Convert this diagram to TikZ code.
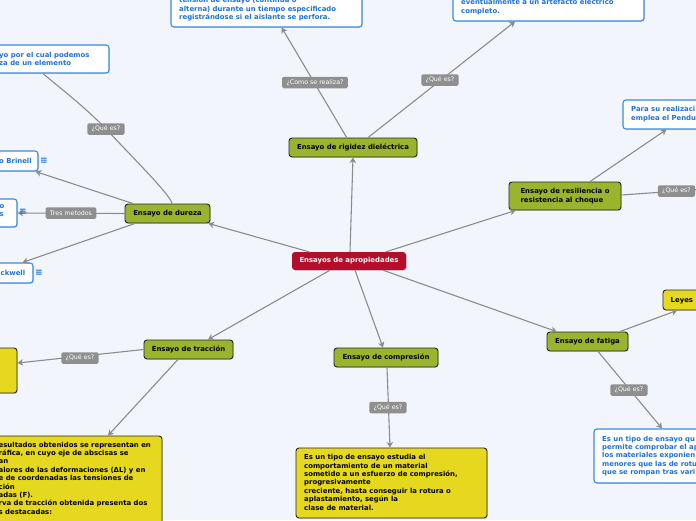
\documentclass[tikz,border=0pt]{standalone}
\usepackage{fontspec}
\setmainfont{DejaVu Sans}
\usetikzlibrary{arrows.meta,shadows}
\definecolor{bg}{HTML}{F2F5FC}
\definecolor{mgreen}{HTML}{9BB42D}
\definecolor{myellow}{HTML}{E6D81E}
\definecolor{mred}{HTML}{B50E2A}
\definecolor{mblue}{HTML}{1F72D6}
\definecolor{bblue}{HTML}{3A8AE2}
\definecolor{lgray}{HTML}{8C8C8C}
\definecolor{labgray}{HTML}{8F8F8F}
\tikzset{
 conn/.style={draw=lgray, line width=1.1pt},
 arr/.style={conn, -{Stealth[length=5.5pt,width=6.5pt,inset=1.5pt]}},
 shad/.style={drop shadow={shadow xshift=0.8pt,shadow yshift=-0.9pt,opacity=0.25}},
 topic/.style={shad, draw=black!85, line width=0.9pt, fill=mgreen, rounded corners=3pt, inner sep=0pt, font=\fontsize{6.9}{8.4}\selectfont\bfseries, text=black},
 central/.style={shad, fill=mred, rounded corners=3pt, inner sep=0pt, font=\fontsize{6.9}{8.4}\selectfont\bfseries, text=white},
 wbox/.style={shad, draw=bblue, line width=1.1pt, fill=white, rounded corners=3pt, inner sep=0pt},
 ybox/.style={shad, draw=black!85, line width=0.9pt, fill=myellow, rounded corners=3pt, inner sep=0pt},
 btxt/.style={anchor=north west, inner sep=0pt, align=left, text=mblue, font=\fontsize{6.9}{8.4}\selectfont\bfseries, execute at begin node=\strut},
 ktxt/.style={btxt, text=black},
 lab/.style={fill=labgray, text=white, rounded corners=1.5pt, inner xsep=4.3pt, inner ysep=0pt, minimum height=11.5pt, font=\fontsize{6.3}{7}\selectfont},
 icon/.style={text=mblue, inner sep=0pt, font=\fontsize{9}{9}\selectfont\bfseries},
}
\begin{document}
\begin{tikzpicture}[x=1pt,y=-1pt]
\useasboundingbox (0,0) rectangle (696,520);
\clip (0,0) rectangle (696,520);
\fill[bg] (0,0) rectangle (696,520);

% main topics
\node[central, minimum width=114pt, minimum height=18pt] (cen) at (349,261) {Ensayos de apropiedades};
\node[topic, minimum width=128pt, minimum height=19pt] (rig) at (353,147.5) {Ensayo de rigidez dieléctrica};
\node[topic, minimum width=85pt, minimum height=19pt] (dur) at (167.5,213.5) {Ensayo de dureza};
\node[topic, minimum width=112pt, minimum height=28pt, align=left] (res) at (565,196) {Ensayo de resiliencia o\\resistencia al choque};
\node[topic, minimum width=89pt, minimum height=19pt] (tra) at (188.5,349.5) {Ensayo de tracción};
\node[topic, minimum width=104pt, minimum height=19pt] (com) at (386,357.5) {Ensayo de compresión};
\node[topic, minimum width=81pt, minimum height=19pt] (fat) at (587.5,341.5) {Ensayo de fatiga};

% content boxes
\node[wbox, minimum width=191pt, minimum height=52pt] (topc) at (266.5,1) {};
\node[wbox, minimum width=191pt, minimum height=46pt] (topr) at (548.5,-2) {};
\node[wbox, minimum width=119pt, minimum height=28pt] (lt) at (49.5,59) {};
\node[wbox, minimum width=48pt, minimum height=20pt] (bri) at (14,161) {};
\node[wbox, minimum width=27pt, minimum height=28pt] (vic) at (3.5,213) {};
\node[wbox, minimum width=43pt, minimum height=20pt] (roc) at (11.5,273) {};
\node[wbox, minimum width=97pt, minimum height=29pt] (rwb) at (671.5,114.5) {};
\node[wbox, minimum width=126pt, minimum height=54pt] (fwb) at (657,456) {};
\node[ybox, minimum width=27pt, minimum height=45pt] (tyl) at (3.5,370.5) {};
\node[ybox, minimum width=172pt, minimum height=94pt] (tyb) at (76,483) {};
\node[ybox, minimum width=191pt, minimum height=70pt] (cyb) at (391.5,483) {};
\node[ybox, minimum width=57pt, minimum height=20pt] (ley) at (691.5,300) {};

% texts
\node[btxt] (t-topc) at (179,-3.1) {tensión de ensayo (continua o\\alterna) durante un tiempo especificado\\registrándose si el aislante se perfora.};
\node[btxt] (t-topr) at (461,-0.8) {eventualmente a un artefacto eléctrico\\completo.};
\node[btxt] (t-lt) at (-1,51.6) {yo por el cual podemos\\za de un elemento};
\node[btxt] (t-bri) at (-1,157) {o Brinell};
\node[btxt] (t-vic) at (-0.5,204) {o\\s};
\node[btxt] (t-roc) at (0.5,269) {ckwell};
\node[btxt] (t-rwb) at (631,106.2) {Para su realizaci\\emplea el Pendu};
\node[btxt] (t-fwb) at (602,435.7) {Es un tipo de ensayo qu\\permite comprobar el ap\\los materiales exponien\\menores que las de rotu\\que se rompan tras vari};
\node[ktxt] (t-tyb) at (-1.5,441.7) {esultados obtenidos se representan en\\ráfica, en cuyo eje de abscisas se\\an\\alores de las deformaciones (ΔL) y en\\e de coordenadas las tensiones de\\ción\\adas (F).\\rva de tracción obtenida presenta dos\\s destacadas:};
\node[ktxt] (t-cyb) at (304,454.3) {Es un tipo de ensayo estudia el\\comportamiento de un material\\sometido a un esfuerzo de compresión,\\progresivamente\\creciente, hasta conseguir la rotura o\\aplastamiento, según la\\clase de material.};
\node[ktxt] (t-ley) at (670.5,296) {Leyes};

% off-canvas end
\coordinate (offr) at (720,188);

% connectors
\draw[arr] ([xshift=1pt]cen.north) -- (rig.south);
\draw[arr] ([xshift=-40pt]cen.north) -- ([xshift=-2pt]dur.south east);
\draw[arr] ([xshift=37pt]cen.north) -- ([xshift=7pt]res.south west);
\draw[arr] ([xshift=-19pt]cen.south) -- ([xshift=19.5pt]tra.north);
\draw[arr] ([xshift=6pt]cen.south) -- ([xshift=-3pt]com.north);
\draw[arr] ([xshift=34pt]cen.south) -- ([xshift=10pt]fat.north west);
\draw[arr] ([xshift=-6.3pt]rig.north) -- ([xshift=15.2pt]topc.south);
\draw[arr] ([xshift=15pt]rig.north) -- ([xshift=-33.5pt]topr.south);
\draw[conn] ([xshift=4.5pt]dur.north) .. controls (171,196) and (140,165) .. (106,129) .. controls (85,107) and (60,88) .. ([xshift=-6.5pt]lt.south);
\draw[arr] ([xshift=-34.5pt]dur.north) -- ([xshift=-3pt]bri.south east);
\draw[arr] (dur.west) -- (vic.east);
\draw[arr] ([xshift=-32.5pt]dur.south) -- ([xshift=-11pt]roc.north east);
\draw[arr] ([xshift=25pt]res.north) -- ([xshift=44pt]rwb.south west);
\draw[conn] ([yshift=1pt]res.east) -- (offr);
\draw[arr] (tra.west) -- ([yshift=7.5pt]tyl.east);
\draw[arr] ([xshift=-10.5pt]tra.south) -- ([xshift=32pt]tyb.north);
\draw[arr] ([xshift=1pt]com.south) -- ([xshift=-1.5pt]cyb.north);
\draw[arr] ([xshift=32.5pt]fat.north) -- ([xshift=-14.5pt]ley.south);
\draw[arr] ([xshift=10.5pt]fat.south) -- ([xshift=5pt]fwb.north);

% labels
\node[lab] (l1) at (106,129) {¿Qué es?};
\node[lab] (l2) at (315,82.5) {¿Como se realiza?};
\node[lab] (l3) at (440,80) {¿Qué es?};
\node[lab] (l4) at (71,213) {Tres metodos};
\node[lab] (l5) at (676.5,191) {¿Qué es?};
\node[lab] (l6) at (80,358) {¿Qué es?};
\node[lab] (l7) at (388,407.5) {¿Qué es?};
\node[lab] (l8) at (629,390) {¿Qué es?};

% note icons
\node[icon] (ic1) at (44,161) {≡};
\node[icon] (ic2) at (23,212) {≡};
\node[icon] (ic3) at (39,273) {≡};
\end{tikzpicture}
\end{document}
